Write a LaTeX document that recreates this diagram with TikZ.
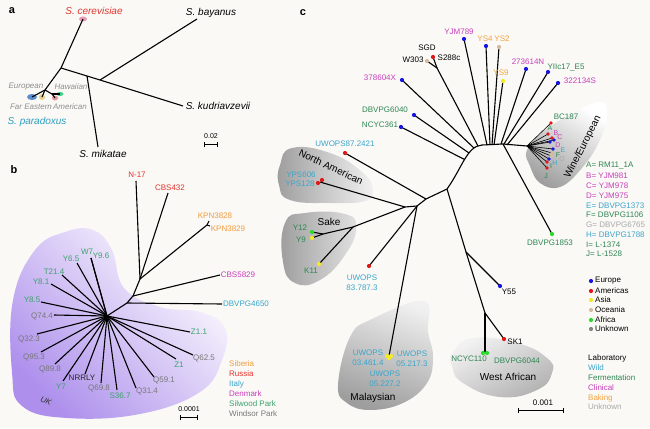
\documentclass[tikz,border=0pt]{standalone}
\usepackage{fontspec}
\setmainfont{Liberation Sans}
\usepackage{tikz}
\usetikzlibrary{arrows.meta,shapes.geometric}
\definecolor{paper}{HTML}{FAF9F6}
\definecolor{cerred}{HTML}{E2352E}
\definecolor{paracyan}{HTML}{2E9FC2}
\definecolor{popgray}{HTML}{8E8E8E}
\definecolor{siberia}{HTML}{F29B3E}
\definecolor{russia}{HTML}{E5332C}
\definecolor{italy}{HTML}{37A6CB}
\definecolor{denmark}{HTML}{C83DBB}
\definecolor{silwood}{HTML}{3AA36C}
\definecolor{windsor}{HTML}{787878}
\definecolor{hullpurple}{HTML}{A584EA}
\definecolor{wildc}{HTML}{3AA6CC}
\definecolor{fermc}{HTML}{2F8653}
\definecolor{clinc}{HTML}{C83FBC}
\definecolor{bakec}{HTML}{F2A341}
\definecolor{unkc}{HTML}{A8A8A8}
\definecolor{dEur}{HTML}{1717E0}
\definecolor{dAme}{HTML}{E01818}
\definecolor{dAsia}{HTML}{F0EA28}
\definecolor{dOce}{HTML}{D6BC9E}
\definecolor{dAfr}{HTML}{2BDB2B}
\definecolor{dUnk}{HTML}{858585}
\definecolor{cerblob}{HTML}{E79BB5}
\definecolor{eurblob}{HTML}{5B8CCB}
\definecolor{farblob}{HTML}{E6D28A}
\definecolor{ameblob}{HTML}{E59A9A}
\definecolor{hawblob}{HTML}{3FD08A}
\newcommand{\lblfont}{\fontsize{8}{10}\selectfont}
\newcommand{\spfont}{\fontsize{10}{11}\selectfont\itshape}
\newcommand{\panelfont}{\fontsize{11}{12}\selectfont\bfseries}
\tikzset{
  branch/.style={line width=1.1pt},
  twig/.style={line width=0.6pt},
  leafdot/.style={circle, inner sep=0pt, minimum size=4.2pt},
  popblob/.style={ellipse, inner sep=0pt, draw=none},
  lbl/.style={font=\lblfont, inner sep=0pt, align=center},
  letterlbl/.style={font=\fontsize{7}{8}\selectfont, inner sep=0pt},
  spname/.style={font=\spfont, inner sep=0pt},
  popname/.style={font=\lblfont\itshape, text=popgray, inner sep=0pt},
  cladename/.style={font=\fontsize{10}{11}\selectfont, inner sep=0pt},
  panel/.style={font=\panelfont, inner sep=0pt},
  scalebar/.style={line width=1pt, {Bar[width=5pt]}-{Bar[width=5pt]}},
}

\begin{document}
\begin{tikzpicture}[x=1pt, y=-1pt]
  \fill[paper] (0,0) rectangle (650,428);
  \useasboundingbox (0,0) rectangle (650,428);

  % ---------- a: species tree
  \node[panel] (pa) at (12,11) {a};
  \node[popblob, fill=cerblob, minimum width=8pt, minimum height=5pt] (cer) at (83,19) {};
  \node[popblob, fill=eurblob, minimum width=10pt, minimum height=6pt] (peur) at (32,97) {};
  \node[popblob, fill=farblob, minimum width=6pt, minimum height=6pt] (pfar) at (42,97) {};
  \node[popblob, fill=ameblob, minimum width=6pt, minimum height=5pt] (pame) at (55,98) {};
  \node[popblob, fill=hawblob, minimum width=7pt, minimum height=4pt] (phaw) at (60,94) {};
  \coordinate (aroot) at (61,68);
  \coordinate (amik) at (87,76);
  \coordinate (abk) at (100,80);
  \coordinate (apar) at (45,90);
  \coordinate (aham) at (52,94);
  \coordinate (bay) at (197,19);
  \coordinate (kud) at (183,106);
  \coordinate (mik) at (98,147);
  \draw[branch] (cer.center) -- (aroot) -- (apar);
  \draw[branch] (aroot) -- (amik) -- (abk) -- (kud);
  \draw[branch] (abk) -- (bay);
  \draw[branch] (amik) -- (mik);
  \foreach \a/\b in {apar/peur.center,apar/pfar.center,apar/aham,aham/pame.center,aham/phaw.center}
    \draw[branch] (\a) -- (\b);
  \node[spname, text=cerred] (cerl) at (94,11) {S. cerevisiae};
  \node[spname] (bayl) at (211,13) {S. bayanus};
  \node[spname] (kudl) at (218,106) {S. kudriavzevii};
  \node[spname] (mikl) at (103,154) {S. mikatae};
  \node[spname, text=paracyan] (parl) at (37,122) {S. paradoxus};
  \node[popname] (eurl) at (26,87) {European};
  \node[popname] (hawl) at (71,87) {Hawaiian};
  \node[popname] (farl) at (31,107) {Far Eastern};
  \node[popname] (amel) at (70,107) {American};
  \node[lbl, font=\fontsize{7}{8}\selectfont] (sal) at (211,136) {0.02};
  \coordinate (sa1) at (204,144);
  \coordinate (sa2) at (218,144);
  \draw[scalebar] (sa1) -- (sa2);

  % ---------- b: UK and other isolates
  \node[panel] (pb) at (14,170) {b};
  \shade[top color=white, middle color=hullpurple!22, bottom color=hullpurple!90, shading angle=-45]
    plot[smooth cycle, tension=0.7] coordinates {(93,230) (112,250) (124,288) (160,307) (200,312) (225,328) (222,360) (200,392) (140,414) (67,418) (22,406) (12,372) (13,300) (35,250) (65,232)};
  \node[lbl, font=\lblfont\itshape, text=black!80, rotate=-22] (ukl) at (46,401) {UK};
  \coordinate (bc) at (107,316);
  \coordinate (b1) at (127,303);
  \coordinate (b2) at (133,296);
  \coordinate (b3) at (140,279);
  \coordinate (bkpn) at (207,225);
  \draw[branch] (bc) -- (b1) -- (b2) -- (b3);
  \foreach \nm/\b/\ex/\ey/\lx/\ly/\col/\txt in {
      n17/b3/136/181/137/175/russia/N-17,
      cbs432/b3/168/193/170/188/russia/CBS432,
      kpn28/bkpn/209/221/215/216/siberia/KPN3828,
      kpn29/bkpn/210/226/228/229/siberia/KPN3829,
      cbs5829/b2/220/275/238/275/denmark/CBS5829,
      dbv4650/b1/222/304/246/304/italy/DBVPG4650}
  {
    \coordinate (\nm) at (\ex,\ey);
    \draw[branch] (\b) -- (\nm);
    \node[lbl, text=\col] (\nm-l) at (\lx,\ly) {\txt};
  }
  \draw[branch] (b3) -- (bkpn);
  \foreach \nm/\ex/\ey/\lx/\ly/\col/\txt in {
      w7/91/258/87/252/silwood/W7,
      y96/91/258/101/256/silwood/Y9.6,
      y65/77/263/71/259/silwood/Y6.5,
      t214/62/275/54/272/silwood/T21.4,
      y81/51/284/41/282/silwood/Y8.1,
      y85/41/302/32/300/silwood/Y8.5,
      q744/54/315/42/316/windsor/Q74.4,
      q323/37/334/29/339/windsor/Q32.3,
      q953/41/352/34/357/windsor/Q95.3,
      q898/55/364/50/369/windsor/Q89.8,
      y7/63/381/61/387/silwood/Y7,
      nrrly/85/374/82/378/black!85/NRRLY,
      q698/101/383/99/388/windsor/Q69.8,
      s367/117/390/120/396/silwood/S36.7,
      q314/136/388/147/391/windsor/Q31.4,
      q591/154/377/164/380/windsor/Q59.1,
      z1/176/359/179/365/silwood/Z1,
      q625/193/355/204/358/windsor/Q62.5,
      z11/190/332/199/332/silwood/Z1.1}
  {
    \coordinate (\nm) at (\ex,\ey);
    \draw[branch] (bc) -- (\nm);
    \node[lbl, text=\col] (\nm-l) at (\lx,\ly) {\txt};
  }
  \foreach \nm/\y/\col/\txt in {sib/364/siberia/Siberia, rus/374/russia/Russia,
      ita/384/italy/Italy, den/394/denmark/Denmark,
      sil/404/silwood/Silwood Park, win/414/windsor/Windsor Park}
    \node[lbl, text=\col, anchor=west] (key-\nm) at (229,\y) {\txt};
  \node[lbl, font=\fontsize{7}{8}\selectfont] (sbl) at (189,409) {0.0001};
  \coordinate (sb1) at (180,417);
  \coordinate (sb2) at (198,417);
  \draw[scalebar] (sb1) -- (sb2);

  % ---------- c: S. cerevisiae strains
  \node[panel] (pc) at (303,13) {c};
  % clade hulls
  \shade[left color=black!38, right color=black!5]
    plot[smooth cycle, tension=0.8] coordinates {(280,165) (292,148) (330,153) (362,172) (373,190) (365,201) (330,203) (290,200) (279,185)};
  \shade[left color=black!38, right color=black!12]
    plot[smooth cycle, tension=0.8] coordinates {(285,223) (305,213) (345,214) (356,228) (345,255) (320,280) (295,283) (283,262)};
  \shade[top color=black!6, bottom color=black!38, shading angle=-20]
    plot[smooth cycle, tension=0.7] coordinates {(338,385) (350,337) (372,319) (424,301) (428,332) (433,357) (427,383) (403,403) (370,410) (347,403)};
  \shade[top color=black!5, bottom color=black!30, shading angle=30]
    plot[smooth cycle, tension=0.8] coordinates {(453,352) (473,338) (517,343) (547,358) (552,373) (537,390) (500,397) (463,383) (452,366)};
  \shade[top color=white, bottom color=black!38, shading angle=-30]
    plot[smooth cycle, tension=0.7] coordinates {(527,150) (545,130) (575,112) (600,102) (607,112) (600,140) (582,168) (560,187) (540,183) (530,166)};
  \node[cladename, rotate=-25] (naml) at (331,167) {North American};
  \node[cladename] (sakel) at (329,222) {Sake};
  \node[cladename] (mall) at (373,398) {Malaysian};
  \node[cladename] (wafl) at (508,377) {West African};
  \node[cladename, rotate=63] (winel) at (583,147) {Wine/European};
  % backbone
  \coordinate (ca) at (426,199);
  \coordinate (cb) at (417,206);
  \coordinate (cc) at (405,207);
  \coordinate (cs) at (353,227);
  \coordinate (csy) at (323,234);
  \coordinate (cw) at (447,189);
  \coordinate (cy55) at (466,252);
  \coordinate (cwa) at (485,313);
  \coordinate (ct1) at (482,145);
  \coordinate (ct2) at (503,144);
  \coordinate (cwine) at (527,146);
  \coordinate (csgd) at (437,68);
  \coordinate (t1) at (464.5,159.5);
  \coordinate (t2) at (469,153);
  \coordinate (t3) at (474,148);
  \coordinate (t4) at (478,146);
  \coordinate (t5) at (487,145);
  \coordinate (t6) at (490,145);
  \coordinate (t7) at (492,145);
  \coordinate (t8) at (494,145);
  \coordinate (t9) at (501,144);
  \coordinate (t10) at (504,144);
  \coordinate (t11) at (507,145);
  \draw[branch] (cc) -- (cb) -- (ca) -- (cw) .. controls (462,168) and (467,146) .. (ct1) -- (ct2) -- (cwine);
  \draw[branch] (cw) -- (cy55) -- (cwa);
  \draw[branch] (cc) -- (cs) -- (csy);
  \draw[branch] (t4) -- (csgd);
  % wine / european fan
  \foreach \nm/\ex/\ey in {bc187/551/123, wa/548/134, wb/552/138, wc/554/140, wd/550/142,
      we/553/149, wf/552/153, wg/551/156, wh/549/159, wi/547/162, wj/547/168}
  {
    \coordinate (\nm-e) at (\ex,\ey);
    \draw[twig] (cwine) -- (\nm-e);
  }
  \foreach \nm/\dc/\lx/\ly/\lc/\txt in {
      wa/dAme/550/128/fermc/A,
      wb/dAme/556/133/clinc/B,
      wc/dEur/560/137/clinc/C,
      wd/dEur/558/145/clinc/D,
      we/dEur/563/150/wildc/E,
      wf/dOce/558/155/fermc/F,
      wg/dOce/562/159/unkc/G,
      wh/dEur/555/163/wildc/H,
      wi/dAme/551/166/fermc/I,
      wj/dAme/546/176/fermc/J}
  {
    \node[leafdot, minimum size=3.6pt, fill=\dc] (\nm) at (\nm-e) {};
    \node[letterlbl, text=\lc] (\nm-l) at (\lx,\ly) {\txt};
  }
  \node[leafdot, minimum size=3.6pt, fill=dAme] (bc187) at (bc187-e) {};
  \node[lbl, text=fermc] (bc187-l) at (566,117) {BC187};
  % other leaves
  \foreach \nm/\b/\ex/\ey/\dc/\lx/\ly/\lc/\txt in {
      ncyc361/t1/401/127/dEur/380/125/fermc/NCYC361,
      dbv6040/t2/414/115/dEur/385/110/fermc/DBVPG6040,
      x378/t3/402/80/dEur/380/78/clinc/378604X,
      yjm789/t5/464/39/dEur/459/32/clinc/YJM789,
      ys4/t6/486/46/dEur/485/39/bakec/YS4,
      ys2/t7/499/47/dOce/502/39/bakec/YS2,
      ys9/t8/503/81/dAsia/501/73/bakec/YS9,
      n273/t9/526/69/dEur/528/62/clinc/273614N,
      yiic/t10/548/72/dEur/566/68/fermc/YIIc17\_E5,
      s322/t11/558/83/dEur/580/81/clinc/322134S,
      uw87/ca/345/153/dAme/345/144/wildc/UWOPS87.2421,
      dbv1853/ct2/552/234/dAfr/550/243/fermc/DBVPG1853,
      y55/cy55/500/286/dEur/509/292/black/Y55,
      sk1/cwa/504/339/dAme/515/342/black/SK1,
      k11/cs/319/264/dAsia/311/271/fermc/K11,
      y12/csy/312/232/dAfr/300/228/fermc/Y12,
      y9/csy/312/238/dAsia/301/240/fermc/Y9,
      w303/csgd/427/61/dOce/413/60/black/W303,
      s288c/csgd/433/57/dAme/449/58/black/S288c}
  {
    \coordinate (\nm-e) at (\ex,\ey);
    \draw[branch] (\b) -- (\nm-e);
    \node[leafdot, fill=\dc] (\nm) at (\nm-e) {};
    \node[lbl, text=\lc] (\nm-l) at (\lx,\ly) {\txt};
  }
  \node[lbl] (sgdl) at (427,48) {SGD};
  % clade leaves
  \coordinate (nam-e) at (320,182);
  \coordinate (uw83-e) at (369,266);
  \coordinate (mal-e) at (389,356);
  \coordinate (wa-e) at (485,353);
  \draw[branch] (cc) -- (nam-e);
  \draw[branch] (cb) -- (uw83-e);
  \draw[branch] (cb) -- (mal-e);
  \draw[branch] (cwa) -- (wa-e);
  \node[leafdot, fill=dAme] (yps606) at (322,180) {};
  \node[leafdot, fill=dAme] (yps128) at (318,183) {};
  \node[leafdot, fill=dAme] (uw83) at (uw83-e) {};
  \node[leafdot, fill=dAsia] (mal1) at (387,356) {};
  \node[leafdot, fill=dAsia] (mal2) at (391,356) {};
  \node[leafdot, fill=dAsia] (mal3) at (389,358) {};
  \node[leafdot, fill=dAfr] (ncyc110) at (483,353) {};
  \node[leafdot, fill=dAfr] (dbv6044) at (487,353) {};
  \node[lbl, text=wildc] (yps606-l) at (301,175) {YPS606};
  \node[lbl, text=wildc] (yps128-l) at (300,184) {YPS128};
  \node[lbl, text=wildc] (uw83-l) at (362,283) {UWOPS\\83.787.3};
  \node[lbl, text=wildc] (mal1-l) at (368,358) {UWOPS\\03.461.4};
  \node[lbl, text=wildc] (mal2-l) at (412,359) {UWOPS\\05.217.3};
  \node[lbl, text=wildc] (mal3-l) at (385,379) {UWOPS\\05.227.2};
  \node[lbl, text=fermc] (ncyc110-l) at (469,359) {NCYC110};
  \node[lbl, text=fermc] (dbv6044-l) at (517,361) {DBVPG6044};
  % keys
  \foreach \nm/\y/\col/\txt in {
      a/166/fermc/A= RM11\_1A, b/176/clinc/B= YJM981, c/186/clinc/C= YJM978,
      d/196/clinc/D= YJM975, e/206/wildc/E= DBVPG1373, f/215/fermc/F= DBVPG1106,
      g/225/unkc/G= DBVPG6765, h/235/wildc/H= DBVPG1788, i/245/fermc/I= L-1374,
      j/254/fermc/J= L-1528}
    \node[lbl, text=\col, anchor=west] (wkey-\nm) at (586,\y) {\txt};
  \foreach \nm/\y/\col/\txt in {eur/281/dEur/Europe, ame/291/dAme/Americas,
      asia/300/dAsia/Asia, oce/310/dOce/Oceania, afr/320/dAfr/Africa, unk/329/dUnk/Unknown}
  {
    \node[leafdot, fill=\col] (loc-\nm) at (591,\y) {};
    \node[lbl, anchor=west] (loc-\nm-l) at (595,\y) {\txt};
  }
  \foreach \nm/\y/\col/\txt in {lab/358/black/Laboratory, wild/368/wildc/Wild,
      ferm/378/fermc/Fermentation, clin/388/clinc/Clinical,
      bake/398/bakec/Baking, unk/407/unkc/Unknown}
    \node[lbl, text=\col, anchor=west] (type-\nm) at (588,\y) {\txt};
  \node[lbl] (scl) at (543,403) {0.001};
  \coordinate (sc1) at (518,410);
  \coordinate (sc2) at (564,410);
  \draw[scalebar] (sc1) -- (sc2);
\end{tikzpicture}
\end{document}
